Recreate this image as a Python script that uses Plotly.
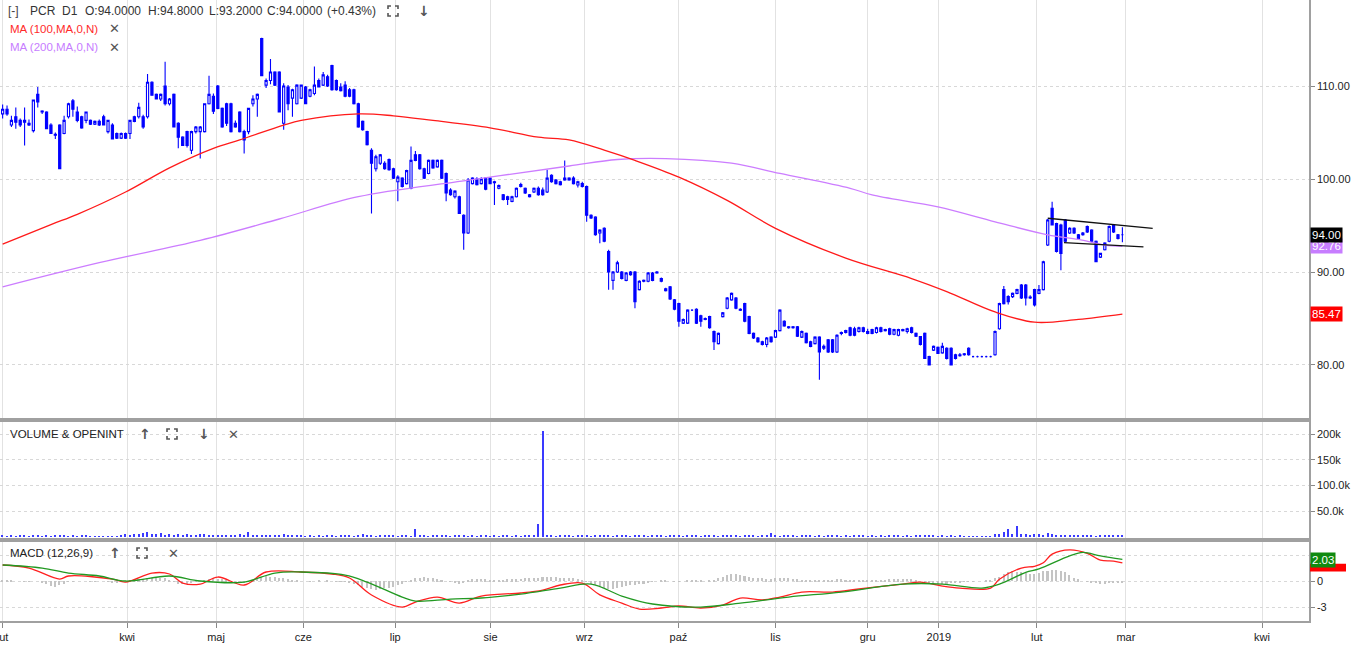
import plotly.graph_objects as go

# ---------------- data ----------------
bar_idx = list(range(256))

open_ = [
107.0,107.5,105.8,106.7,106.3,106.3,106.0,105.2,109.1,107.3,
107.2,105.8,104.8,105.8,104.9,106.7,108.4,107.2,106.7,106.3,
106.3,105.9,106.2,106.7,105.1,105.8,104.9,104.4,104.9,104.9,
106.7,106.7,106.7,106.7,110.4,109.1,108.6,110.0,108.1,109.1,
106.0,104.5,105.1,103.1,105.1,105.1,105.1,108.1,108.9,110.0,
107.6,108.1,108.1,106.0,107.2,105.1,105.1,108.1,108.6,115.1,
110.1,110.6,111.5,111.5,106.0,109.9,108.7,108.1,108.7,109.9,
108.9,109.2,110.6,110.1,111.0,112.2,110.6,109.9,110.1,109.6,
109.6,108.1,106.2,105.1,103.1,101.1,101.7,101.7,102.1,101.1,
99.7,100.1,99.5,99.0,102.6,102.6,101.1,100.6,102.0,101.3,
102.0,100.6,98.8,98.1,98.1,96.1,94.2,99.5,100.0,99.5,
100.1,100.1,99.7,99.0,98.3,98.1,97.6,98.1,99.2,99.0,
98.3,98.6,99.0,98.8,98.6,100.4,99.9,99.7,99.9,100.1,
100.1,99.35,99.5,99.2,96.1,95.9,94.2,94.7,92.2,89.1,
90.0,90.0,89.1,90.0,90.0,88.1,89.1,89.0,89.9,90.0,
89.3,88.2,88.4,87.0,86.6,84.5,84.5,85.9,86.0,85.3,
85.0,85.2,83.6,82.3,85.2,86.1,87.0,87.2,86.0,86.6,
85.2,83.4,82.9,82.5,82.2,83.0,83.0,83.7,84.7,84.1,
84.0,84.1,83.0,83.4,82.5,82.3,83.0,81.8,82.7,82.7,
81.4,83.4,83.5,84.0,83.9,83.6,84.0,83.6,83.8,83.5,
84.0,83.8,83.9,83.3,83.2,83.8,83.6,84.0,83.4,83.05,
83.4,80.9,81.6,81.9,81.3,81.8,81.8,81.1,81.0,81.1,
81.8,80.9,80.9,80.9,80.9,80.9,81.1,83.9,88.1,87.35,
87.35,87.7,88.6,88.6,87.3,88.1,87.7,88.1,92.9,96.85,
95.2,95.05,95.6,94.2,94.7,94.0,94.0,94.9,94.5,93.3,
91.6,92.4,93.3,95.0,94.0,94.0]

high = [
108.0,107.9,106.8,107.7,106.5,107.7,106.4,108.5,109.9,107.4,
107.3,106.0,105.0,105.9,106.8,108.2,108.6,107.8,106.8,107.2,
106.4,106.3,106.4,106.9,106.3,106.0,105.0,105.0,105.0,106.3,
106.8,108.2,106.9,111.3,110.5,109.2,109.2,112.6,108.7,109.2,
106.1,104.6,105.2,105.2,105.7,105.7,108.1,111.1,109.2,110.1,
107.7,108.2,108.2,106.3,107.3,105.3,107.6,109.0,109.2,115.2,
110.8,112.9,111.6,111.6,110.3,110.1,109.7,110.2,110.1,110.0,
109.7,112.1,110.8,111.5,111.2,112.3,110.7,110.3,110.5,109.8,
109.7,108.2,106.3,105.2,103.3,102.6,102.7,101.9,102.2,101.2,
100.4,100.2,101.0,103.5,103.0,102.7,101.2,102.1,102.1,102.1,
102.1,100.7,99.0,98.8,98.2,96.2,100.1,100.2,100.2,100.2,
100.2,100.2,99.8,99.4,98.4,98.2,98.2,99.1,99.6,99.1,
98.4,99.1,99.2,99.1,101.0,100.5,100.0,99.8,102.0,100.2,
100.3,99.8,99.7,99.3,96.2,96.0,94.6,94.8,92.4,90.1,
91.2,90.1,90.0,90.1,90.1,89.1,89.2,90.0,90.0,90.1,
89.4,88.3,88.5,87.1,86.7,85.0,86.0,86.0,86.1,85.4,
85.1,85.3,83.7,83.5,85.7,87.3,87.8,87.3,86.1,86.7,
85.3,83.5,83.0,82.6,83.0,83.1,83.8,86.0,84.8,84.2,
84.2,84.2,83.7,83.5,82.6,83.1,83.1,82.2,82.8,82.8,
83.3,83.6,83.8,84.1,84.1,84.1,84.1,83.9,83.9,84.1,
84.1,83.9,84.0,83.9,83.9,83.9,84.0,84.1,83.5,83.1,
83.5,81.0,82.1,82.0,82.4,81.9,81.9,81.2,81.3,81.3,
81.9,81.0,81.0,81.0,81.0,81.0,83.7,86.7,88.5,87.5,
87.8,88.2,88.7,88.7,87.5,88.2,88.6,91.2,95.7,97.56,
95.3,95.2,95.7,94.8,94.8,94.1,94.3,95.0,94.6,93.4,
92.0,93.2,95.0,95.1,94.1,94.8]

low = [
106.5,106.8,105.6,105.4,105.6,103.6,105.7,105.0,107.7,107.0,
105.4,104.9,104.3,101.1,104.8,106.5,106.7,106.1,105.4,106.0,
105.8,105.8,105.7,105.8,104.9,104.3,104.3,104.3,104.3,104.3,
106.1,106.5,105.4,106.5,109.0,108.6,108.4,107.9,107.9,105.6,
103.3,103.6,103.4,102.7,104.9,102.2,105.0,108.0,107.0,107.5,
105.5,105.7,105.0,105.5,105.0,102.75,104.8,107.8,106.7,111.1,
109.8,110.2,110.0,107.2,105.3,107.4,106.7,108.0,108.6,108.1,
108.8,109.0,109.9,110.0,109.9,109.5,109.5,109.4,108.8,108.8,
108.0,105.5,105.2,103.6,96.3,100.8,101.5,101.0,100.9,100.0,
97.6,99.1,99.4,98.9,101.9,101.0,100.0,100.5,101.1,101.2,
100.0,97.6,98.2,97.9,96.3,92.4,94.1,99.4,99.3,99.4,
98.8,99.5,97.2,98.9,97.7,97.2,97.5,98.0,99.1,98.4,
98.0,98.5,98.2,98.2,98.5,99.6,99.4,99.3,99.8,99.8,
99.4,99.1,99.1,95.4,95.7,93.9,93.1,93.2,88.1,88.1,
89.9,89.2,89.0,89.6,86.1,88.0,88.9,88.9,89.0,89.8,
88.9,87.9,87.0,85.9,84.1,84.4,84.4,85.8,84.4,84.1,
84.8,83.9,81.6,82.2,85.1,86.0,86.9,86.0,85.8,84.6,
83.3,82.8,82.4,82.1,81.9,82.4,82.9,83.6,84.1,83.9,
83.9,83.0,82.9,82.3,81.9,82.2,78.4,81.6,81.3,81.3,
81.3,83.2,83.4,83.1,83.1,83.5,83.5,83.3,83.3,83.4,
83.5,83.6,83.2,83.2,83.1,83.6,83.4,83.4,83.0,82.1,
80.7,80.0,81.5,81.2,81.2,80.6,80.0,80.6,80.9,81.0,
81.0,80.8,80.8,80.8,80.8,80.8,81.0,83.8,86.5,86.5,
87.2,87.6,87.1,86.4,87.1,86.3,87.6,88.0,92.8,95.0,
92.1,90.2,93.2,94.1,94.1,93.5,93.9,94.2,93.2,91.1,
91.5,92.3,93.2,94.2,93.5,93.2]

close = [
107.5,107.0,106.3,106.1,105.8,106.1,105.8,108.5,108.3,107.2,
105.4,104.9,104.7,101.1,106.3,108.1,107.5,106.3,105.5,107.2,
105.9,106.2,105.8,105.8,106.3,104.3,104.4,104.9,104.4,106.3,
106.2,107.7,105.6,110.4,109.0,108.6,109.1,108.1,108.6,105.6,
104.5,103.6,103.6,105.1,105.6,105.6,108.1,109.1,107.3,107.6,
105.6,106.0,105.1,105.6,105.1,104.2,107.6,108.6,109.1,111.1,
110.6,111.5,110.1,107.2,110.0,108.1,109.6,110.1,110.1,108.1,
109.6,110.1,109.9,111.2,110.0,109.6,109.6,109.5,108.9,108.9,
108.1,105.6,105.3,103.7,101.7,102.4,102.6,101.1,101.0,100.1,
100.2,99.2,100.9,102.0,102.0,101.1,100.1,102.0,101.2,102.0,
100.1,98.5,98.3,98.7,96.3,94.2,99.9,100.1,99.4,100.0,
98.9,99.5,99.6,99.3,97.8,97.8,98.1,99.0,99.4,98.5,
98.1,99.0,98.3,98.3,100.1,99.7,99.5,99.4,100.1,99.9,
99.5,99.7,99.2,96.1,95.8,94.0,94.5,93.3,90.0,90.0,
91.0,89.3,89.9,89.7,86.8,89.0,89.0,89.9,89.1,89.9,
89.0,88.0,87.1,86.0,84.7,84.9,85.9,85.9,84.5,84.7,
84.9,84.0,82.5,83.4,85.6,87.2,87.7,86.1,85.9,84.7,
83.4,82.9,82.5,82.2,82.9,82.5,83.7,85.9,84.2,84.0,
84.1,83.1,83.6,82.4,82.0,83.0,81.4,82.0,81.4,81.4,
83.2,83.5,83.7,83.2,83.2,84.0,83.6,83.4,83.4,84.0,
83.6,83.7,83.3,83.8,83.8,83.7,83.9,83.5,83.1,82.2,
80.7,80.0,82.0,81.25,82.0,80.7,80.0,80.7,81.1,81.2,
81.1,80.9,80.9,80.9,80.9,80.9,83.6,86.6,86.6,86.8,
87.7,88.1,87.2,87.2,87.2,86.45,88.1,91.1,95.6,95.05,
92.2,92.0,93.3,94.7,94.2,93.6,94.2,94.3,93.3,91.1,
92.0,93.1,94.9,94.3,93.6,94.0]

# volume in thousands
volume_k = [
2,1,2,1,2,3,1,2,2,1,
2,1,2,3,2,1,2,1,2,2,
1,0.5,0.5,1,0.5,0.5,1,4,5,3,
6,5,7,10,6,5,7,4,5,3,
6,4,5,3,4,6,5,4,3,2,
4,3,2,3,5,3,10,4,3,2,
3,4,2,3,5,3,2,3,2,1,
3,1,2,1,3,2,1,2,4,2,
1,3,5,2,3,1,2,4,3,2,
1,2,2,1,14,3,2,1,2,3,
2,2,1,2,3,2,1,2,1,3,
2,1,2,1,2,3,1,2,1,2,
3,2,24,205,3,2,1,2,3,2,
1,2,3,2,1,2,3,4,2,1,
2,3,2,1,2,2,3,1,2,4,
2,1,2,3,2,1,2,3,2,1,
2,3,2,1,2,3,4,2,1,2,
3,2,1,2,3,8,2,1,2,3,
2,1,2,3,2,1,2,1,2,3,
2,1,2,1,2,3,2,1,2,1,
2,1,2,3,2,1,2,1,2,3,
2,3,2,1,2,1,2,1,2,1,
1,1,1,1,1,1,5,6,10,14,
5,20,6,5,4,6,5,4,8,6,
4,3,2,3,2,3,2,3,2,1,
2,3,2,2,3,2]

macd_hist = [
0.1,0.1,0.05,0,0,-0.05,-0.1,0,0,
-0.2,-0.4,-0.6,-0.7,-0.5,-0.3,
-0.1,-0.1,0,0,0,-0.05,-0.05,0,0,
-0.1,-0.15,-0.2,-0.1,0,0.1,0.15,0.2,0.2,
0.3,0.4,0.4,0.35,0.3,
0.1,-0.1,-0.3,-0.4,-0.3,-0.2,
-0.1,0,0.1,0.2,0.3,0.25,0.2,0.1,0,-0.1,-0.15,
-0.2,-0.1,0.1,0.3,0.5,0.6,0.5,
0.5,0.4,0.3,0.2,0.1,0.05,0,
0,-0.05,0,0.05,0,0.05,0,-0.05,-0.1,-0.1,-0.15,
-0.3,-0.5,-0.7,-0.8,-0.9,-1.0,-0.9,-0.8,-0.8,-0.7,-0.5,-0.3,-0.1,0.1,
0.3,0.4,0.45,0.4,0.3,0.2,0.1,0,-0.1,
-0.2,-0.3,-0.2,0.1,0.2,0.2,0.25,0.2,0.15,0.1,0.1,0.15,0.2,0.2,0.2,0.25,0.3,0.3,0.35,0.4,
0.45,0.5,0.5,0.45,0.4,0.4,0.35,0.3,0.2,0.1,-0.1,-0.3,
-0.5,-0.6,-0.8,-0.9,-0.9,-0.8,-0.7,-0.6,-0.5,-0.5,-0.4,-0.3,-0.2,-0.1,
0,0.05,0.1,0,-0.05,-0.1,0,0.1,0.15,0.1,0.05,0,0.05,0.1,
0.3,0.5,0.7,0.8,0.8,0.7,0.6,0.5,0.4,0.3,0.3,0.2,0.2,
0.3,0.3,0.35,0.3,0.25,0.2,0.1,0.1,0.1,0.05,0.1,0.1,0.05,0.1,0.2,0.2,0.15,0.1,0.1,0.1,0.1,0.05,0.1,0.1,0.1,0.15,0.2,0.2,0.2,
0.2,0.25,0.2,0.1,0,-0.1,-0.2,-0.3,
-0.3,-0.35,-0.3,-0.25,-0.2,-0.15,-0.1,-0.1,-0.05,0,0,0.05,0.1,0.3,
0.5,0.8,1.0,1.1,1.0,1.0,0.9,0.8,0.8,0.9,1.1,1.2,1.3,1.3,1.2,1.0,
0.7,0.4,0.2,0,-0.1,-0.2,-0.25,-0.3,-0.3,-0.25,-0.2,-0.2,-0.15]

macd_x = [0,6,13,15,25,28,34,38,41,45,49,55,60,68,75,79,84,91,94,99,
          104,109,118,123,127,132,136,141,145,150,154,159,164,168,173,177,182,189,195,205,
          209,214,218,225,227,232,235,237,239,243,247,250,253,255]
macd_line = [1.85,1.5,0.23,0.58,0.23,-0.12,0.92,0.81,-0.23,-0.35,0.46,-0.46,1.04,1.04,0.81,0.35,-1.61,-3.0,-2.42,-1.85,
             -2.54,-1.73,-1.38,-1.04,-0.46,-0.23,-1.6,-2.54,-3.23,-3.11,-2.88,-3.11,-2.77,-1.96,-2.19,-1.85,-1.27,-1.27,-0.92,-0.35,
             -0.12,-0.58,-0.81,-0.81,0.2,1.5,1.7,2.1,3.1,3.6,3.2,2.4,2.3,2.1]

signal_x = [0,9,15,22,28,38,45,55,62,68,78,83,91,94,102,109,118,127,134,141,
            148,159,168,179,191,205,214,223,227,233,236,243,246,250,255]
signal_line = [1.85,1.5,0.92,0.58,0,0.58,0,-0.12,0.92,1.04,0.69,-0.12,-1.85,-2.31,-2.08,-1.96,-1.5,-0.81,-0.35,-1.73,
               -2.65,-3.0,-2.54,-1.85,-1.27,-0.35,-0.35,-0.81,-0.35,1.0,1.4,2.9,3.3,2.9,2.5]

ma100_x = [0,11,17,28,38,48,54,64,68,81,89,98,111,122,129,137,144,154,165,176,192,207,215,226,235,245,255]
ma100_y = [93.0,95.1,96.2,98.6,101.2,103.3,104.2,105.8,106.3,107.0,106.8,106.3,105.5,104.5,104.2,103.1,102.0,
           100.2,97.7,94.7,91.5,89.3,87.9,85.7,84.6,84.9,85.47]

ma200_x = [0,22,45,63,81,105,129,140,151,166,177,193,198,213,226,238,245,251,255]
ma200_y = [88.4,91.0,93.4,95.7,98.1,99.8,101.4,102.1,102.2,101.7,100.6,99.0,98.3,97.0,95.4,94.0,93.5,92.9,92.76]

trend_up_x = [238.0, 261.9]
trend_up_y = [95.78, 94.7]
trend_dn_x = [241.7, 259.8]
trend_dn_y = [93.15, 92.7]

month_pos = [-0.03, 28.34, 48.6, 68.45, 89.4, 111.1, 132.5, 153.9, 176.0, 197.0, 213.2, 235.5, 255.8, 286.8]
month_lbl = ["lut", "kwi", "maj", "cze", "lip", "sie", "wrz", "paź", "lis", "gru", "2019", "lut", "mar", "kwi"]

price_ticks = [80, 90, 100, 110]
vol_ticks = [50, 100, 150, 200]
vol_tick_lbl = ["50.0k", "100.0k", "150k", "200k"]
macd_ticks = [-3, 0, 3]
macd_tick_lbl = ["-3", "0", ""]   # the "3" label sits hidden under the value box

# ---------------- figure ----------------
W, H = 1366, 654
ML, MR, MT, MB = 0, 57, 0, 33
PW = W - ML - MR
PH = H - MT - MB

def px(x):
    return x / PW

def py(y):
    return (PH - y) / PH

FONT = "Liberation Sans, Arial, sans-serif"
SYM = "DejaVu Sans, sans-serif"

fig = go.Figure()

fig.add_trace(go.Candlestick(
    x=bar_idx, open=open_, high=high, low=low, close=close,
    xaxis="x", yaxis="y", whiskerwidth=0,
    increasing=dict(line=dict(color="#0000ff", width=1.1), fillcolor="#ffffff"),
    decreasing=dict(line=dict(color="#0000ff", width=1.1), fillcolor="#0000ff"),
    showlegend=False, hoverinfo="skip"))

fig.add_trace(go.Scatter(x=ma200_x, y=ma200_y, mode="lines", line=dict(color="#cc7dff", width=1.3, shape="spline"),
                         xaxis="x", yaxis="y", showlegend=False, hoverinfo="skip"))
fig.add_trace(go.Scatter(x=ma100_x, y=ma100_y, mode="lines", line=dict(color="#ff1a1a", width=1.3, shape="spline"),
                         xaxis="x", yaxis="y", showlegend=False, hoverinfo="skip"))
fig.add_trace(go.Scatter(x=trend_up_x, y=trend_up_y, mode="lines", line=dict(color="#111111", width=1.3),
                         xaxis="x", yaxis="y", showlegend=False, hoverinfo="skip"))
fig.add_trace(go.Scatter(x=trend_dn_x, y=trend_dn_y, mode="lines", line=dict(color="#111111", width=1.3),
                         xaxis="x", yaxis="y", showlegend=False, hoverinfo="skip"))

fig.add_trace(go.Bar(x=bar_idx, y=volume_k, width=0.3, marker=dict(color="#3a3aff", line=dict(width=0)),
                     xaxis="x2", yaxis="y2", showlegend=False, hoverinfo="skip"))

fig.add_trace(go.Bar(x=bar_idx, y=macd_hist, width=0.35, marker=dict(color="#c4c4c4", line=dict(width=0)),
                     xaxis="x3", yaxis="y3", showlegend=False, hoverinfo="skip"))
fig.add_trace(go.Scatter(x=macd_x, y=macd_line, mode="lines", line=dict(color="#ff2020", width=1.3, shape="spline"),
                         xaxis="x3", yaxis="y3", showlegend=False, hoverinfo="skip"))
fig.add_trace(go.Scatter(x=signal_x, y=signal_line, mode="lines", line=dict(color="#229922", width=1.3, shape="spline"),
                         xaxis="x3", yaxis="y3", showlegend=False, hoverinfo="skip"))

XR = [-0.6, 297.5]
LINEC = "#a0a0a0"
GRIDV = "#e2e2e2"
GRIDH = "#d8d8d8"

xcommon = dict(range=XR, tickmode="array", tickvals=month_pos, ticktext=month_lbl,
               showgrid=True, gridcolor=GRIDV, gridwidth=1, zeroline=False,
               showline=True, mirror=True, linecolor=LINEC, linewidth=1.5, fixedrange=True,
               automargin=False)
ycommon = dict(side="right", showgrid=True, gridcolor=GRIDH, griddash="dot", zeroline=False,
               showline=True, mirror=True, linecolor=LINEC, linewidth=1.5,
               ticks="outside", ticklen=4, tickcolor="#888", automargin=False,
               tickfont=dict(family=FONT, size=11, color="#222"), fixedrange=True)

d_macd = [0, py(542)]
d_vol = [py(538), py(422)]
d_price = [py(418), 1]

fig.update_layout(
    width=W, height=H, margin=dict(l=ML, r=MR, t=MT, b=MB, autoexpand=False),
    paper_bgcolor="white", plot_bgcolor="white", bargap=0, barmode="overlay",
    xaxis=dict(**xcommon, anchor="y", domain=[0, 1], showticklabels=False, ticks="",
               rangeslider=dict(visible=False), matches="x3"),
    xaxis2=dict(**xcommon, anchor="y2", domain=[0, 1], showticklabels=False, ticks="", matches="x3"),
    xaxis3=dict(**xcommon, anchor="y3", domain=[0, 1], showticklabels=True, ticks="outside",
                ticklen=5, tickcolor="#888", ticklabeloverflow="allow",
                tickfont=dict(family=FONT, size=11, color="#222")),
    yaxis=dict(**ycommon, domain=d_price, range=[74.3, 119.25], tickvals=price_ticks,
               ticktext=[f"{v:.2f}" for v in price_ticks]),
    yaxis2=dict(**ycommon, domain=d_vol, range=[-2.6, 223.5], tickvals=vol_ticks, ticktext=vol_tick_lbl),
    yaxis3=dict(**ycommon, domain=d_macd, range=[-4.61, 4.5], tickvals=macd_ticks,
                ticktext=macd_tick_lbl),
)

ann = []
def txt(x, y, s, color="#333", size=12, family=FONT, weight="normal"):
    ann.append(dict(x=px(x), y=py(y), xref="paper", yref="paper", text=s, showarrow=False,
                    xanchor="left", yanchor="middle",
                    font=dict(family=family, size=size, color=color, weight=weight)))

# header
txt(6, 11, "[-]", "#444", 12)
txt(28, 11, "PCR")
txt(60, 11, "D1")
txt(83, 11, "O:94.0000")
txt(146, 11, "H:94.8000")
txt(207, 11, "L:93.2000")
txt(265, 11, "C:94.0000")
txt(325, 11, "(+0.43%)")
txt(416, 11, "↓", "#555", 14, SYM, "bold")
txt(8, 29, "MA (100,MA,0,N)", "#ff2a2a", 11.5)
txt(107, 29, "✕", "#555", 13, SYM, "bold")
txt(8, 47, "MA (200,MA,0,N)", "#c77dff", 11.5)
txt(107, 47, "✕", "#555", 13, SYM, "bold")
# volume header
txt(8, 434, "VOLUME &amp; OPENINT", "#222", 11.5)
txt(137, 434, "↑", "#555", 14, SYM, "bold")
txt(196, 434, "↓", "#555", 14, SYM, "bold")
txt(226, 434, "✕", "#555", 13, SYM, "bold")
# macd header
txt(8, 553, "MACD (12,26,9)", "#222", 11.5)
txt(107, 553, "↑", "#555", 14, SYM, "bold")
txt(166, 553, "✕", "#555", 13, SYM, "bold")

# value boxes on right axis
def vbox(y, yref, s, bg):
    ann.append(dict(x=1.0, y=y, xref="paper", yref=yref, text=s, showarrow=False,
                    xanchor="left", yanchor="middle", xshift=1, bgcolor=bg, borderpad=1,
                    font=dict(family=FONT, size=11.5, color="white")))

vbox(85.47, "y", "85.47", "#ff0000")
vbox(92.76, "y", "92.76", "#c77dff")
vbox(94.0, "y", "94.00", "#000000")
vbox(2.45, "y3", "2.03", "#108a10")

fig.update_layout(annotations=ann)

# fullscreen corner icons
def corners(cx, cy, s=5, l=3):
    pts = [
        [(cx - s, cy - s + l), (cx - s, cy - s), (cx - s + l, cy - s)],
        [(cx + s - l, cy - s), (cx + s, cy - s), (cx + s, cy - s + l)],
        [(cx + s, cy + s - l), (cx + s, cy + s), (cx + s - l, cy + s)],
        [(cx - s + l, cy + s), (cx - s, cy + s), (cx - s, cy + s - l)],
    ]
    path = ""
    for seg in pts:
        path += "M{:.5f},{:.5f} ".format(px(seg[0][0]), py(seg[0][1]))
        for p in seg[1:]:
            path += "L{:.5f},{:.5f} ".format(px(p[0]), py(p[1]))
    return dict(type="path", path=path, xref="paper", yref="paper", line=dict(color="#555", width=1.6))

# red MACD value box peeking under the green signal box
red_box = dict(type="rect", xref="paper", yref="y3", x0=1.0 + 1 / PW, x1=1.0 + 37 / PW, y0=1.1, y1=2.0,
               fillcolor="#ff0000", line=dict(width=0), layer="above")

fig.update_layout(shapes=[corners(393, 11), corners(172, 434), corners(142, 553), red_box])

fig.write_html("out.html", config={"displayModeBar": False},
               post_script="document.body.style.margin='0px';document.body.style.padding='0px';")
